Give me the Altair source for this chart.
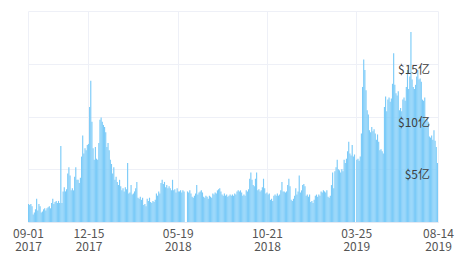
import altair as alt
import pandas as pd

# Daily trading volume (in 亿 USD), one value per 2 days starting 2017-09-01
start_date = "2017-09-01"
end_date = "2019-08-14"
vol = [
    1.7, 1.6, 1.7, 1.5, 0.7, 0.9, 1.2, 2.2, 1.1, 1.7,
    1.5, 0.9, 1.0, 1.2, 1.3, 1.1, 1.3, 1.4, 1.5, 1.3,
    1.8, 2.2, 1.7, 1.9, 2.0, 1.8, 2.0, 1.8, 7.2, 1.8,
    2.9, 3.3, 2.9, 3.1, 4.6, 5.2, 4.4, 3.0, 3.2, 3.0,
    4.3, 5.2, 4.0, 4.0, 3.7, 4.2, 6.2, 8.2, 6.5, 7.0,
    6.8, 7.3, 7.4, 10.9, 13.4, 9.5, 7.0, 5.9, 7.1, 6.0,
    5.9, 7.5, 9.7, 9.9, 9.5, 9.2, 9.0, 8.5, 7.1, 7.5,
    6.8, 5.9, 5.5, 4.6, 5.2, 4.0, 4.3, 3.8, 3.5, 4.0,
    3.4, 3.0, 3.2, 2.9, 3.3, 3.1, 5.6, 2.7, 2.8, 3.5,
    2.6, 2.7, 2.9, 3.2, 3.8, 2.3, 2.2, 2.4, 2.1, 2.3,
    1.6, 1.7, 1.5, 2.2, 2.0, 2.3, 1.9, 1.8, 2.0, 1.9,
    2.1, 2.7, 2.5, 2.9, 2.7, 3.7, 4.0, 3.6, 3.8, 3.3,
    3.5, 3.2, 3.4, 3.2, 3.0, 4.0, 3.0, 3.1, 2.8, 3.2,
    2.9, 2.9, 3.0, 2.8, 3.0, 2.9, None, None, 2.9, 2.8,
    3.0, 2.7, 2.4, 2.3, 2.5, 2.7, 3.5, 2.6, 2.8, 2.9,
    3.0, 2.8, 2.4, 2.3, 2.5, 2.4, 2.2, 2.5, 2.4, 2.3,
    2.7, 2.6, 2.8, 2.7, 3.0, 3.1, 3.2, 2.9, 2.6, 2.5,
    2.7, 2.5, 2.6, 2.4, 2.5, 2.6, 2.5, 2.6, 2.5, 2.7,
    2.6, 2.9, 3.0, 2.9, 3.0, 2.8, 2.5, 2.6, 2.5, 3.0,
    2.9, 3.1, 4.1, 4.7, 4.0, 3.5, 3.4, 4.1, 4.7, 3.0,
    3.1, 2.9, 3.0, 3.3, 4.1, 3.2, 2.7, 2.8, 2.6, 2.7,
    2.1, 2.2, 2.0, 2.5, 2.6, 2.5, 2.7, 2.5, 2.6, 3.0,
    3.8, 2.9, 2.9, 2.8, 2.9, 3.5, 4.1, 3.4, 2.1, 2.0,
    2.2, 2.5, 3.2, 2.6, 2.9, 4.4, 2.8, 3.0, 3.5, 3.6,
    3.4, 2.5, 2.6, 2.4, 2.6, 1.9, 2.0, 1.8, 2.1, 2.5,
    2.6, 2.4, 2.6, 2.5, 2.9, 2.8, 3.0, 2.9, 2.8, 3.0,
    2.4, 2.3, 2.5, 3.5, 4.7, 3.2, 4.8, 5.2, 5.9, 5.0,
    4.9, 4.7, 5.0, 4.8, 5.9, 5.6, 6.0, 6.7, 7.6, 6.5,
    6.3, 7.3, 6.2, 6.4, None, 5.9, 6.0, 5.8, 6.2, 8.4,
    12.8, 15.4, 14.4, 12.5, 10.6, 10.2, 8.7, 8.5, 9.0, 8.6,
    8.8, 8.4, 7.8, 8.3, 7.6, 6.8, 6.9, 6.7, 6.5, 10.9,
    11.9, 10.5, 11.6, 11.8, 11.4, 11.7, 13.1, 16.0, 13.0, 12.2,
    12.0, 12.4, 10.6, 10.8, 10.5, 11.6, 11.8, 11.5, 12.8, 14.4,
    12.6, 13.8, 18.0, 13.5, 12.8, 12.6, 13.0, 13.8, 14.4, 13.5,
    13.6, 13.3, 11.6, 11.5, 11.8, 9.7, 9.8, 9.5, 8.1, 8.0,
    8.2, 7.8, 8.7, 7.7, 7.1, 5.6,
]
tick_dates = ["2017-09-01", "2017-12-15", "2018-05-19", "2018-10-21", "2019-03-25", "2019-08-14"]
y_ticks = [0, 5, 10, 15, 20]
y_label_values = [5, 10, 15]

starts = pd.date_range(start=start_date, periods=len(vol), freq="2D")
ends = starts + pd.Timedelta(days=2)
df = pd.DataFrame({
    "date": starts.strftime("%Y-%m-%d"),
    "date_end": ends.strftime("%Y-%m-%d"),
    "vol": vol,
}).dropna()

labels_df = pd.DataFrame({
    "v": y_label_values,
    "label": ["$" + str(v) + "亿" for v in y_label_values],
})


def dt(s):
    y, m, d = s.split("-")
    return alt.DateTime(year=int(y), month=int(m), date=int(d), utc=True)


font = "Noto Sans CJK SC"
y_scale = alt.Scale(domain=[0, 20], nice=False)

bars = alt.Chart(df).mark_rect(color="#7ccbf8", clip=True).encode(
    x=alt.X(
        "date:T",
        scale=alt.Scale(type="utc", domain=[dt(start_date), dt(end_date)], nice=False),
        axis=alt.Axis(
            values=[dt(s) for s in tick_dates],
            labelExpr="[utcFormat(datum.value, '%m-%d'), utcFormat(datum.value, '%Y')]",
            title=None,
            grid=True,
            gridColor="#eef0f7",
            ticks=False,
            domainColor="#e3e8f2",
            labelColor="#555555",
            labelFont=font,
            labelFontSize=12,
            labelLineHeight=13,
            labelPadding=6,
            labelOverlap=False,
            labelFlush=False,
        ),
    ),
    x2="date_end:T",
    y=alt.Y(
        "vol:Q",
        scale=y_scale,
        axis=alt.Axis(
            orient="right",
            values=y_ticks,
            labels=False,
            title=None,
            grid=True,
            gridColor="#eef0f7",
            ticks=False,
            domain=False,
        ),
    ),
    y2=alt.datum(0),
)

ylabels = alt.Chart(labels_df).mark_text(
    align="right", baseline="top", dy=1, font=font, fontSize=12, color="#404040"
).encode(
    x=alt.value(402),
    y=alt.Y("v:Q", scale=y_scale),
    text="label:N",
)

chart = alt.layer(bars, ylabels).properties(
    width=410,
    height=211,
    padding={"left": 28, "top": 11, "right": 28, "bottom": 40},
    autosize=alt.AutoSizeParams(type="none"),
).configure_view(stroke=None)

chart.save("out.html", embed_options={"renderer": "svg", "actions": False})
